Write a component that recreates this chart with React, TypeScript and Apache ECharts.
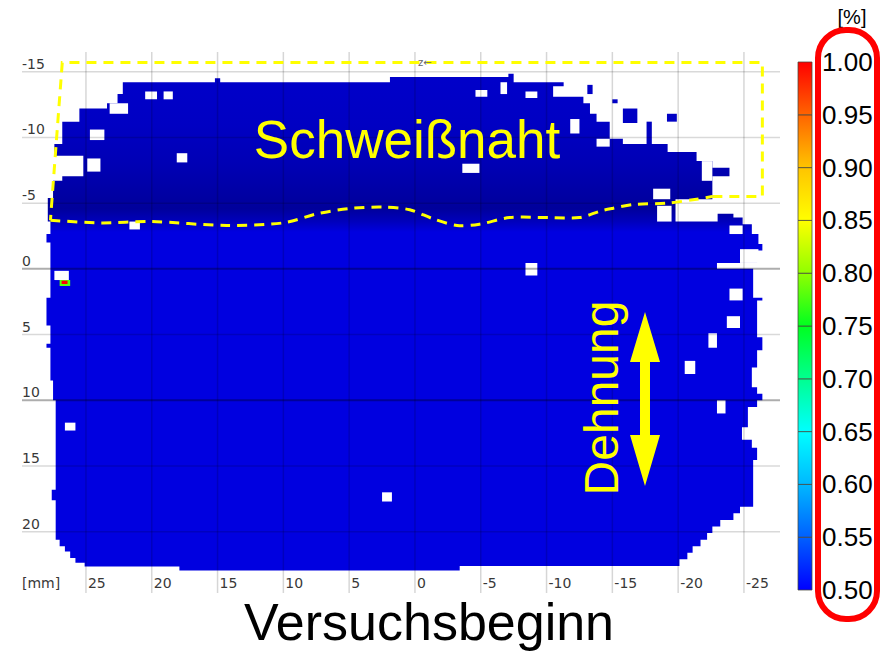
import React, { useEffect, useRef } from 'react';
import * as echarts from 'echarts';

// ---- axes (mm) ----
const xTicks = [25, 20, 15, 10, 5, 0, -5, -10, -15, -20, -25];
const yTicks = [-15, -10, -5, 0, 5, 10, 15, 20];
const majorYTicks = [0, 10];
const xRange = [-27.74, 29.86];
const yRange = [-16.5, 24.66];

// ---- colour scale [%] ----
const colorbarTicks = [0.5, 0.55, 0.6, 0.65, 0.7, 0.75, 0.8, 0.85, 0.9, 0.95, 1.0];
const colormap: [number, string][] = [
  [0.4, '#000090'], [0.5, '#0000ff'], [0.55, '#0060ff'], [0.6, '#00b8ff'], [0.65, '#00ffff'],
  [0.7, '#00ff90'], [0.75, '#00ff20'], [0.8, '#90ff00'], [0.85, '#ffff00'], [0.9, '#ffc400'],
  [0.95, '#ff6400'], [1.0, '#ff0000'],
];

// ---- measured specimen field (x mm, y mm) ----
const specimenOutline: [number, number][] = [
  [26.8, -9.5], [26.8, -11.2], [25.5, -11.2], [25.5, -12.2], [23.4, -12.2], [23.4, -12.6],
  [22.6, -12.6], [22.6, -13.3], [22.2, -13.3], [22.2, -14.2], [15.2, -14.2], [15.2, -14.5],
  [14.8, -14.5], [14.8, -14.2], [1.9, -14.2], [1.9, -14.6], [-7.1, -14.6], [-7.1, -14.85],
  [-7.5, -14.85], [-7.5, -14.2], [-11.3, -14.2], [-11.3, -13.9], [-10.5, -13.9], [-10.5, -13.1],
  [-12.8, -13.1], [-12.8, -12.6], [-13.3, -12.6], [-13.3, -11.8], [-13.8, -11.8], [-13.8, -11.2],
  [-14.8, -11.2], [-14.8, -9.9], [-15.8, -9.9], [-15.8, -9.5], [-19.2, -9.5], [-19.2, -8.9],
  [-21.4, -8.9], [-21.4, -8.2], [-22.6, -8.2], [-22.6, -7.7], [-23.9, -7.7], [-23.9, -7.05],
  [-22.6, -7.05], [-22.6, -5.2], [-22.95, -5.2], [-22.95, -4.2], [-24.2, -4.2], [-24.2, -3.9],
  [-24.9, -3.9], [-24.9, -3.4], [-25.6, -3.4], [-25.6, -2.65], [-26.1, -2.65], [-26.1, -1.9],
  [-26.4, -1.9], [-26.4, -1.4], [-26.0, -1.4], [-26.0, -0.1], [-25.7, -0.1], [-25.7, 2.2],
  [-26.4, 2.2], [-26.4, 2.4], [-26.0, 2.4], [-26.0, 5.2], [-26.4, 5.2], [-26.4, 6.2],
  [-26.0, 6.2], [-26.0, 7.5], [-25.6, 7.5], [-25.6, 9.0], [-26.0, 9.0], [-26.0, 9.5],
  [-26.4, 9.5], [-26.4, 10.0], [-26.0, 10.0], [-26.0, 10.5], [-25.3, 10.5], [-25.3, 12.05],
  [-24.85, 12.05], [-24.85, 13.0], [-25.6, 13.0], [-25.6, 13.6], [-26.0, 13.6], [-26.0, 14.55],
  [-25.7, 14.55], [-25.7, 18.1], [-24.7, 18.1], [-24.7, 18.6], [-24.2, 18.6], [-24.2, 19.1],
  [-23.2, 19.1], [-23.2, 19.6], [-22.6, 19.6], [-22.6, 20.1], [-22.2, 20.1], [-22.2, 20.6],
  [-21.7, 20.6], [-21.7, 21.1], [-21.1, 21.1], [-21.1, 21.6], [-20.7, 21.6], [-20.7, 22.1],
  [-20.1, 22.1], [-20.1, 22.6], [-3.4, 22.6], [-3.4, 22.95], [17.9, 22.95], [17.9, 22.65],
  [25.1, 22.65], [25.1, 22.35], [25.8, 22.35], [25.8, 22.0], [26.2, 22.0], [26.2, 21.5],
  [26.6, 21.5], [26.6, 21.1], [27.0, 21.1], [27.0, 20.6], [27.3, 20.6], [27.3, 17.6],
  [27.6, 17.6], [27.6, 16.8], [27.3, 16.8], [27.3, 10.0], [27.5, 10.0], [27.5, 8.5],
  [27.7, 8.5], [27.7, 6.0], [28.0, 6.0], [28.0, 5.7], [27.7, 5.7], [27.7, 4.3],
  [28.0, 4.3], [28.0, 2.2], [27.7, 2.2], [27.7, -2.0], [28.0, -2.0], [28.0, -2.65],
  [27.7, -2.65], [27.7, -3.6], [27.9, -3.6], [27.9, -5.4], [27.5, -5.4], [27.5, -6.7],
  [26.8, -6.7], [26.8, -7.05], [25.2, -7.05], [25.2, -8.6], [27.4, -8.6], [27.4, -9.5],
];

// strain along y (mm) -> value [%]
const strainProfile: [number, number][] = [
  [-15, 0.452], [-11, 0.446], [-8, 0.433], [-6, 0.42], [-4.6, 0.41], [-3.6, 0.44], [-2.8, 0.472], [23, 0.472],
];

// missing facets [x1, y1, x2, y2] (mm)
const holes: number[][] = [
  [23.2, -12.6, 21.8, -11.8], [20.5, -13.5, 19.6, -12.9], [19.1, -13.5, 18.4, -12.9],
  [24.7, -10.6, 23.6, -9.8], [24.9, -8.4, 23.9, -7.4], [18.1, -8.8, 17.3, -8.1],
  [-3.6, -8.0, -4.9, -7.3], [-4.6, -13.6, -5.5, -13.1], [-6.5, -14.2, -7.0, -13.3],
  [-8.4, -13.5, -9.3, -13.0], [-11.8, -11.4, -12.5, -10.3], [-13.8, -9.9, -14.8, -9.3],
  [-21.8, -8.2, -22.6, -6.7], [-18.1, -6.1, -19.4, -5.3], [-18.4, -4.8, -19.5, -3.6],
  [-19.8, -5.3, -23.0, -3.6], [-23.9, -3.3, -24.9, -2.65], [-22.95, -0.45, -26.1, 0.0],
  [-24.7, -1.5, -26.1, -0.45], [-23.9, 1.5, -24.9, 2.4], [-23.7, 3.6, -24.7, 4.5],
  [-22.3, 4.9, -22.95, 6.0], [-20.5, 7.0, -21.3, 8.0], [-22.95, 10.0, -23.6, 11.0],
  [-8.4, -0.45, -9.3, 0.5], [21.7, -3.6, 20.9, -3.0], [27.4, 0.15, 26.3, 0.85],
  [26.6, 11.7, 25.8, 12.3], [2.5, 17.0, 1.75, 17.7],
];

// isolated facets [x1, y1, x2, y2] (mm)
const islands: number[][] = [
  [-13.1, -14.0, -13.5, -13.3], [-15.8, -12.2, -16.9, -11.1], [-19.15, -11.8, -19.9, -11.2],
  [-17.6, -11.2, -18.0, -9.5], [-15.0, -12.9, -15.4, -12.6],
];

// local strain peaks [x1, y1, x2, y2, value]
const hotspots: number[][] = [
  [27.0, 0.85, 26.2, 1.3, 0.78],
  [26.85, 0.9, 26.4, 1.15, 1.0],
];

// weld seam annotation (mm)
const weldBox: [number, number][] = [
  [-22.6, -5.5], [-26.4, -5.5], [-26.4, -15.7], [26.8, -15.7], [27.7, -3.7],
];
const weldBoundary: [number, number][] = [
  [27.7, -3.7], [23.9, -3.5], [20.1, -3.6], [14.3, -3.3], [10.0, -3.5], [7.4, -4.2], [4.9, -4.6],
  [2.4, -4.7], [0.4, -4.5], [-1.4, -3.8], [-3.2, -3.3], [-4.9, -3.4], [-7.2, -3.9], [-10.3, -3.9],
  [-12.5, -3.9], [-14.1, -4.4], [-15.0, -4.6], [-16.6, -4.9], [-19.15, -5.0], [-21.4, -5.3], [-22.6, -5.5],
];

function hexToRgb(h: string) {
  const n = parseInt(h.slice(1), 16);
  return [(n >> 16) & 255, (n >> 8) & 255, n & 255];
}
function colorFor(v: number) {
  if (v <= colormap[0][0]) return colormap[0][1];
  for (let i = 1; i < colormap.length; i++) {
    if (v <= colormap[i][0]) {
      const [v0, c0] = colormap[i - 1];
      const [v1, c1] = colormap[i];
      const t = (v - v0) / (v1 - v0);
      const a = hexToRgb(c0), b = hexToRgb(c1);
      const c = a.map((x, k) => Math.round(x + (b[k] - x) * t));
      return `rgb(${c[0]},${c[1]},${c[2]})`;
    }
  }
  return colormap[colormap.length - 1][1];
}
function profileAt(y: number) {
  if (y <= strainProfile[0][0]) return strainProfile[0][1];
  for (let i = 1; i < strainProfile.length; i++) {
    if (y <= strainProfile[i][0]) {
      const [y0, v0] = strainProfile[i - 1];
      const [y1, v1] = strainProfile[i];
      return v0 + (v1 - v0) * (y - y0) / (y1 - y0);
    }
  }
  return strainProfile[strainProfile.length - 1][1];
}

function rectFrom(api: any) {
  const a = api.coord([api.value(0), api.value(1)]);
  const b = api.coord([api.value(2), api.value(3)]);
  return {
    x: Math.min(a[0], b[0]), y: Math.min(a[1], b[1]),
    width: Math.abs(b[0] - a[0]), height: Math.abs(b[1] - a[1]),
  };
}

const tickFont = { fontSize: 14, fontFamily: 'DejaVu Sans', color: '#383838' };

export default function App() {
  const ref = useRef<HTMLDivElement>(null);
  useEffect(() => {
    if (!ref.current) return;
    const chart = echarts.init(ref.current, null, { renderer: 'svg' });
    const option: any = {
      animation: false,
      backgroundColor: '#ffffff',
      grid: [
        { left: 22, right: 102, top: 52, bottom: 60 },
        { left: 798, top: 62, width: 14, height: 528 },
      ],
      xAxis: [
        {
          type: 'value', gridIndex: 0, min: xRange[0], max: xRange[1], inverse: true,
          minInterval: 5, maxInterval: 5, z: 8,
          axisLine: { show: false }, axisTick: { show: false }, splitLine: { show: false },
          axisLabel: {
            inside: true, margin: 3, align: 'left', verticalAlign: 'bottom', padding: [0, 0, 0, 2],
            showMinLabel: false, showMaxLabel: false, ...tickFont,
          },
        },
        { type: 'value', gridIndex: 1, min: 0, max: 1, show: false },
      ],
      yAxis: [
        {
          type: 'value', gridIndex: 0, min: yRange[0], max: yRange[1], inverse: true,
          minInterval: 5, maxInterval: 5, z: 8,
          axisLine: { show: false }, axisTick: { show: false }, splitLine: { show: false },
          axisLabel: {
            inside: true, margin: 0, align: 'left', verticalAlign: 'bottom', padding: [0, 0, 1, 0],
            showMinLabel: false, showMaxLabel: false, ...tickFont,
          },
        },
        {
          type: 'value', gridIndex: 1, position: 'right', min: 0.5, max: 1.0, interval: 0.05,
          axisLine: { show: false }, axisTick: { show: false }, splitLine: { show: false },
          axisLabel: {
            margin: 10, fontSize: 26, fontFamily: 'Liberation Sans', color: '#000',
            formatter: (v: number) => v.toFixed(2),
          },
        },
      ],
      series: [
        {
          name: 'field', type: 'custom', xAxisIndex: 0, yAxisIndex: 0, z: 2, silent: true,
          data: [[0, 0]],
          renderItem: (params: any, api: any) => {
            const pts = specimenOutline.map((p) => api.coord(p));
            const ys = specimenOutline.map((p) => p[1]);
            const y0 = Math.min(...ys), y1 = Math.max(...ys);
            const stops = strainProfile.map(([y, v]) => ({
              offset: Math.max(0, Math.min(1, (y - y0) / (y1 - y0))),
              color: colorFor(v),
            }));
            return {
              type: 'polygon', shape: { points: pts },
              style: { fill: new echarts.graphic.LinearGradient(0, 0, 0, 1, stops) },
            };
          },
        },
        {
          name: 'islands', type: 'custom', xAxisIndex: 0, yAxisIndex: 0, z: 3, silent: true,
          dimensions: ['x1', 'y1', 'x2', 'y2'], encode: { x: [0, 2], y: [1, 3] },
          data: islands,
          renderItem: (params: any, api: any) => ({
            type: 'rect', shape: rectFrom(api),
            style: { fill: colorFor(profileAt((api.value(1) + api.value(3)) / 2)) },
          }),
        },
        {
          name: 'holes', type: 'custom', xAxisIndex: 0, yAxisIndex: 0, z: 4, silent: true,
          dimensions: ['x1', 'y1', 'x2', 'y2'], encode: { x: [0, 2], y: [1, 3] },
          data: holes,
          renderItem: (params: any, api: any) => ({
            type: 'rect', shape: rectFrom(api), style: { fill: '#ffffff' },
          }),
        },
        {
          name: 'hotspots', type: 'custom', xAxisIndex: 0, yAxisIndex: 0, z: 5, silent: true,
          dimensions: ['x1', 'y1', 'x2', 'y2', 'v'], encode: { x: [0, 2], y: [1, 3] },
          data: hotspots,
          renderItem: (params: any, api: any) => ({
            type: 'rect', shape: rectFrom(api), style: { fill: colorFor(api.value(4)) },
          }),
        },
        {
          name: 'gridlines', type: 'custom', xAxisIndex: 0, yAxisIndex: 0, z: 6, silent: true,
          data: [[0, 0]],
          renderItem: (params: any, api: any) => {
            const cs = params.coordSys;
            const children: any[] = [];
            xTicks.forEach((v) => {
              const x = api.coord([v, 0])[0];
              children.push({
                type: 'line', shape: { x1: x, y1: cs.y, x2: x, y2: cs.y + cs.height },
                style: { stroke: 'rgba(0,0,0,0.16)', lineWidth: 1.5 },
              });
            });
            yTicks.forEach((v) => {
              const y = api.coord([0, v])[1];
              const major = majorYTicks.includes(v);
              children.push({
                type: 'line', shape: { x1: cs.x, y1: y, x2: cs.x + cs.width, y2: y },
                style: { stroke: major ? 'rgba(0,0,0,0.32)' : 'rgba(0,0,0,0.15)', lineWidth: major ? 2 : 1.5 },
              });
            });
            return { type: 'group', children };
          },
        },
        {
          name: 'weld', type: 'custom', xAxisIndex: 0, yAxisIndex: 0, z: 7, silent: true,
          data: [[0, 0]],
          renderItem: (params: any, api: any) => {
            const st = { stroke: '#ffff00', lineWidth: 3, lineDash: [10, 7], fill: 'none' };
            return {
              type: 'group',
              children: [
                { type: 'polyline', shape: { points: weldBox.map((p) => api.coord(p)) }, style: st },
                { type: 'polyline', shape: { points: weldBoundary.map((p) => api.coord(p)), smooth: 0.3 }, style: st },
              ],
            };
          },
        },
        {
          name: 'colorbar', type: 'custom', xAxisIndex: 1, yAxisIndex: 1, z: 2, silent: true,
          dimensions: ['lo', 'hi'],
          data: colorbarTicks.slice(0, -1).map((t, i) => [t, colorbarTicks[i + 1]]),
          renderItem: (params: any, api: any) => {
            const lo = api.value(0), hi = api.value(1);
            const a = api.coord([0, hi]);
            const b = api.coord([1, lo]);
            return {
              type: 'rect',
              shape: { x: a[0], y: a[1], width: b[0] - a[0], height: b[1] - a[1] },
              style: {
                fill: new echarts.graphic.LinearGradient(0, 0, 0, 1, [
                  { offset: 0, color: colorFor(hi) },
                  { offset: 1, color: colorFor(lo) },
                ]),
                stroke: 'rgba(70,70,60,0.75)', lineWidth: 1,
              },
            };
          },
        },
      ],
      graphic: [
        {
          type: 'text', x: 407, y: 139, z: 100, silent: true,
          style: { text: 'Schweißnaht', fill: '#ffff00', fontSize: 53, fontFamily: 'Liberation Sans', align: 'center', verticalAlign: 'middle' },
        },
        {
          type: 'text', x: 601, y: 398, rotation: Math.PI / 2, z: 100, silent: true,
          style: { text: 'Dehnung', fill: '#ffff00', fontSize: 48, fontFamily: 'Liberation Sans', align: 'center', verticalAlign: 'middle' },
        },
        {
          type: 'polygon', z: 100, silent: true,
          shape: { points: [[645, 312], [660, 362], [650, 362], [650, 435], [660, 435], [645, 486], [630, 435], [640, 435], [640, 362], [630, 362]] },
          style: { fill: '#ffff00' },
        },
        {
          type: 'text', x: 429, y: 622, z: 100, silent: true,
          style: { text: 'Versuchsbeginn', fill: '#000000', fontSize: 52, fontFamily: 'Liberation Sans', align: 'center', verticalAlign: 'middle' },
        },
        {
          type: 'text', x: 22, y: 583, z: 100, silent: true,
          style: { text: '[mm]', fill: '#383838', fontSize: 14, fontFamily: 'DejaVu Sans', align: 'left', verticalAlign: 'middle' },
        },
        {
          type: 'text', x: 418, y: 62, z: 100, silent: true,
          style: { text: 'z←', fill: '#666666', fontSize: 10, fontFamily: 'DejaVu Sans', align: 'left', verticalAlign: 'middle' },
        },
        {
          type: 'text', x: 852, y: 17, z: 100, silent: true,
          style: { text: '[%]', fill: '#000000', fontSize: 20, fontFamily: 'Liberation Sans', align: 'center', verticalAlign: 'middle' },
        },
        {
          type: 'rect', z: 100, silent: true,
          shape: { x: 818, y: 30, width: 59, height: 589, r: 28 },
          style: { fill: 'none', stroke: '#ff0000', lineWidth: 6 },
        },
      ],
    };
    chart.setOption(option);
    return () => chart.dispose();
  }, []);
  return <div ref={ref} style={{ position: 'fixed', left: 0, top: 0, width: 882, height: 653 }} />;
}
